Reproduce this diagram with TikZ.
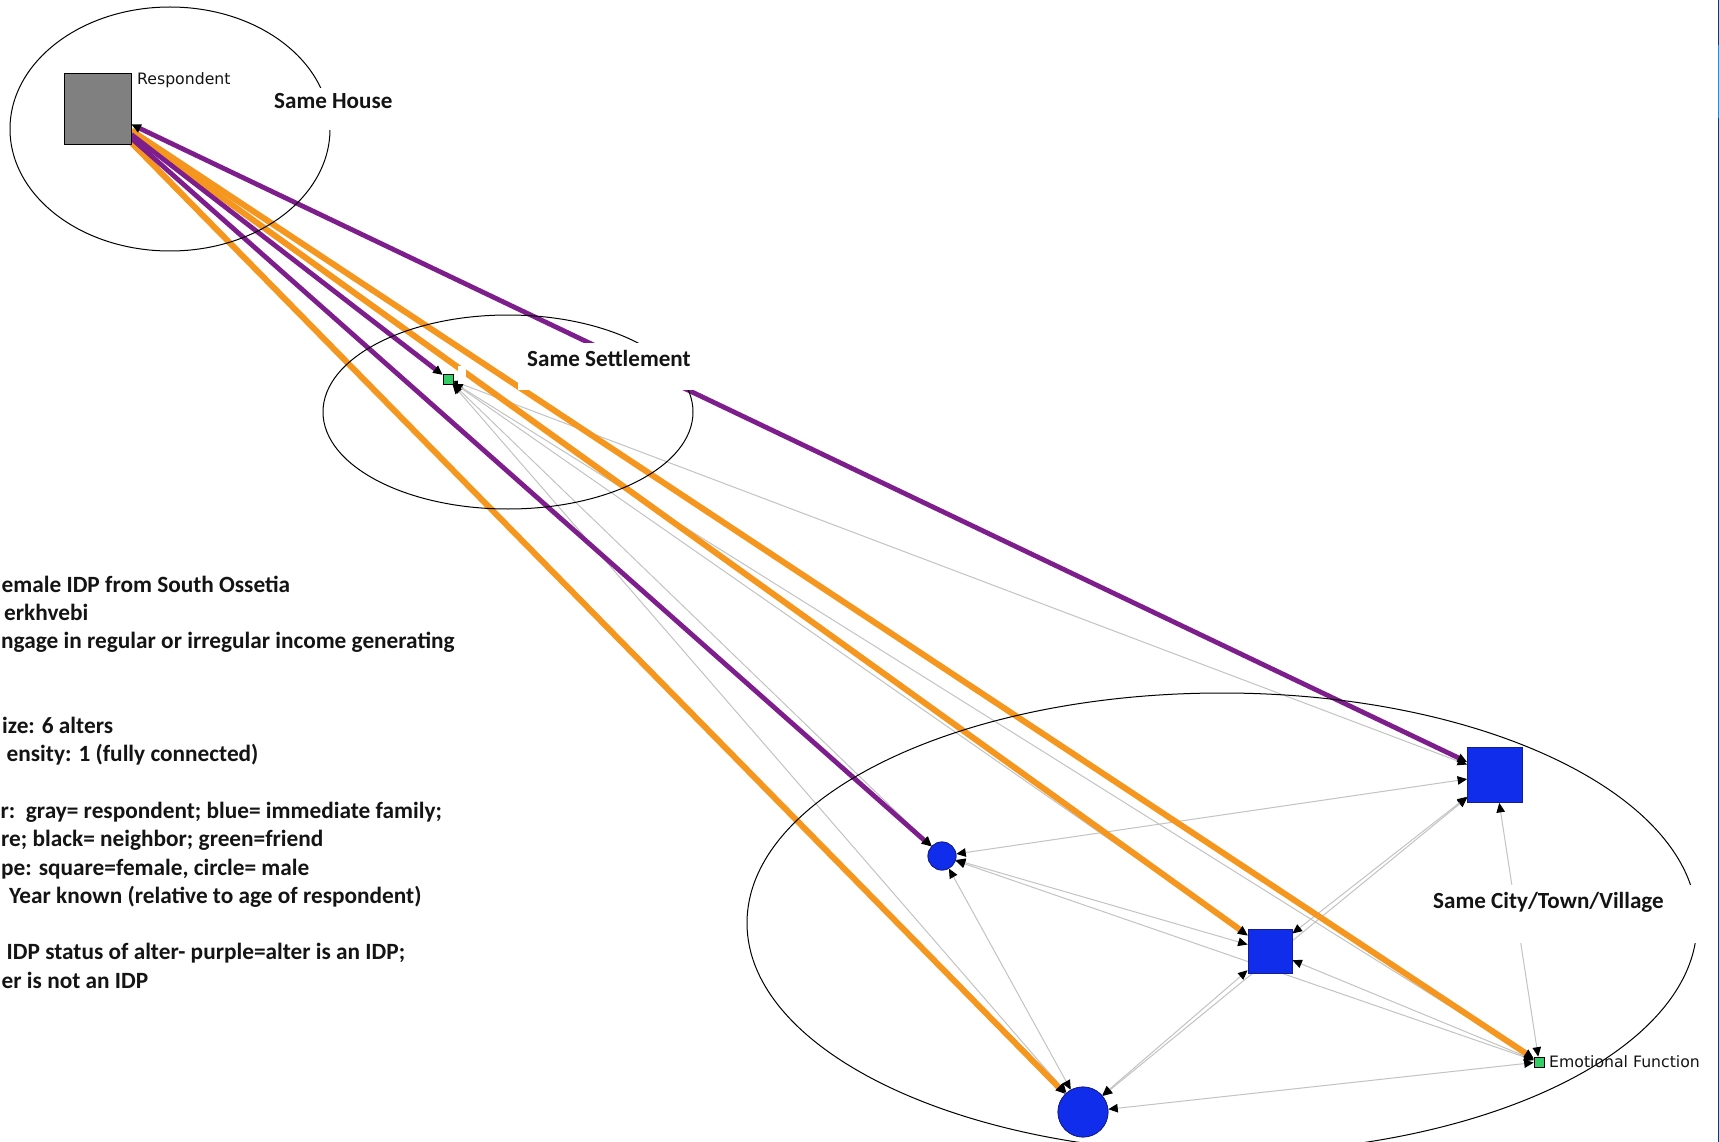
\documentclass[tikz,border=0pt]{standalone}
\usepackage{fontspec}
\setmainfont{Carlito}
\newfontfamily\nodelabelfont{DejaVu Sans}
\usetikzlibrary{arrows.meta}
\definecolor{idp}{RGB}{125,30,140}
\definecolor{nonidp}{RGB}{245,150,30}
\definecolor{tiegray}{RGB}{195,195,195}
\definecolor{famblue}{RGB}{15,45,235}
\definecolor{famedge}{RGB}{20,30,140}
\definecolor{friendgreen}{RGB}{50,205,100}
\definecolor{respgray}{RGB}{128,128,128}
\definecolor{navyedge}{RGB}{25,55,95}
\definecolor{winblue}{RGB}{45,135,210}
\definecolor{labelink}{RGB}{20,20,20}
\tikzset{
  ah/.tip={Triangle[length=9.5pt,width=8.5pt,color=black]},
  tieline/.style={draw=tiegray, line width=1pt, ah-ah},
  idpline/.style={draw=idp, line width=4.8pt, -ah},
  nonidpline/.style={draw=nonidp, line width=6pt, -ah},
  zone/.style={draw=black, line width=1pt},
  respbox/.style={rectangle, fill=respgray, draw=black, line width=0.8pt, inner sep=0pt, minimum width=67pt, minimum height=71pt},
  famsq/.style={rectangle, fill=famblue, draw=famedge, line width=0.8pt, inner sep=0pt, minimum size=#1},
  famci/.style={circle, fill=famblue, draw=famedge, line width=0.8pt, inner sep=0pt, minimum size=#1},
  friendsq/.style={rectangle, fill=friendgreen, draw=black, line width=0.6pt, inner sep=0pt, minimum size=10pt},
  zonelabel/.style={anchor=base west, inner sep=0pt, text=labelink, font=\bfseries\fontsize{23.1}{28}\selectfont},
  altlabel/.style={anchor=base west, inner sep=0pt, text=labelink, font=\nodelabelfont\fontsize{15.7}{19}\selectfont},
  legendline/.style={anchor=base west, inner sep=0pt, text=labelink, font=\bfseries\fontsize{23.3}{28}\selectfont},
}
\begin{document}
\begin{tikzpicture}[x=1pt,y=-1pt]
\path[use as bounding box] (0,0) rectangle (1719,1142);
\clip (0,0) rectangle (1719,1142);
\fill[white] (0,0) rectangle (1719,1142);

% nodes
\node[respbox] (resp) at (97.5,108.5) {};
\node[friendsq] (sett) at (448,379) {};
\node[famci=28pt] (smc) at (942,856) {};
\node[famci=50pt] (bigc) at (1083,1112) {};
\node[famsq=44pt] (medsq) at (1270,951) {};
\node[famsq=55pt] (bigsq) at (1495,775) {};
\node[friendsq] (ef) at (1539,1062) {};

% ties among alters
\draw[tieline] (sett) -- (smc);
\draw[tieline] (sett) -- (bigc);
\draw[tieline] (sett) -- (medsq);
\draw[tieline] (sett) -- (bigsq);
\draw[tieline] (sett) -- (ef);
\draw[tieline] (smc) -- (bigc);
\draw[tieline] (smc) -- (medsq);
\draw[tieline] (smc) -- (bigsq);
\draw[tieline] (smc) -- (ef);
\draw[tieline] (bigc) -- (medsq);
\draw[tieline] (bigc) -- (bigsq);
\draw[tieline] (bigc) -- (ef);
\draw[tieline] (medsq) -- (bigsq);
\draw[tieline] (medsq) -- (ef);
\draw[tieline] (bigsq) -- (ef);

% ties from respondent
\draw[nonidpline] (resp) -- (bigc);
\draw[nonidpline] (resp) -- (medsq);
\draw[nonidpline] (resp) -- (ef);
\draw[idpline] (resp) -- (sett);
\draw[idpline] (resp) -- (smc);
\draw[idpline, ah-ah] (resp) -- (bigsq);

% zones
\draw[zone] (170,129) ellipse [x radius=160, y radius=122];
\draw[zone] (508,412) ellipse [x radius=185, y radius=97];
\draw[zone] (1222,923) ellipse [x radius=475, y radius=230];

% redraw nodes on top
\node[respbox] at (resp.center) {};
\node[friendsq] at (sett.center) {};
\node[famci=28pt] at (smc.center) {};
\node[famci=50pt] at (bigc.center) {};
\node[famsq=44pt] at (medsq.center) {};
\node[famsq=55pt] at (bigsq.center) {};
\node[friendsq] at (ef.center) {};

% blank label patch of the settlement friend
\fill[white] (458,366) rectangle (466,384);

% zone labels on white
\fill[white] (270,88) rectangle (396,130);
\node[zonelabel] (lhouse) at (274,109) {Same House};
\fill[white] (518,343) rectangle (697,390);
\node[zonelabel] (lsett) at (527,366) {Same Settlement};
\fill[white] (1400,885) rectangle (1698,943);
\node[zonelabel] (lcity) at (1433,908) {Same City/Town/Village};

% alter labels
\node[altlabel] (lresp) at (137,85) {Respondent};
\node[altlabel] (lef) at (1549,1067) {Emotional Function};

% legend (as cut at the left edge)
\node[legendline] (t1) at (1.5,592) {emale IDP from South Ossetia};
\node[legendline] (t2) at (4,620.3) {erkhvebi};
\node[legendline] (t3) at (1,648.6) {ngage in regular or irregular income generating};
\node[legendline] (t6) at (2,733.5) {ize: 6 alters};
\node[legendline] (t7) at (6.5,761.8) {ensity: 1 (fully connected)};
\node[legendline] (t9) at (0.5,818.4) {r:\ \ gray= respondent; blue= immediate family;};
\node[legendline] (t10) at (1,846.7) {re; black= neighbor; green=friend};
\node[legendline] (t11) at (1,875) {pe: square=female, circle= male};
\node[legendline] (t12) at (9,903.3) {Year known (relative to age of respondent)};
\node[legendline] (t14) at (6.5,959.9) {IDP status of alter- purple=alter is an IDP;};
\node[legendline] (t15) at (1.5,988.2) {er is not an IDP};

% window edge at the right
\fill[navyedge] (1717.5,0) rectangle (1719,1142);
\fill[winblue] (1717.5,45) rectangle (1719,118);
\end{tikzpicture}
\end{document}
